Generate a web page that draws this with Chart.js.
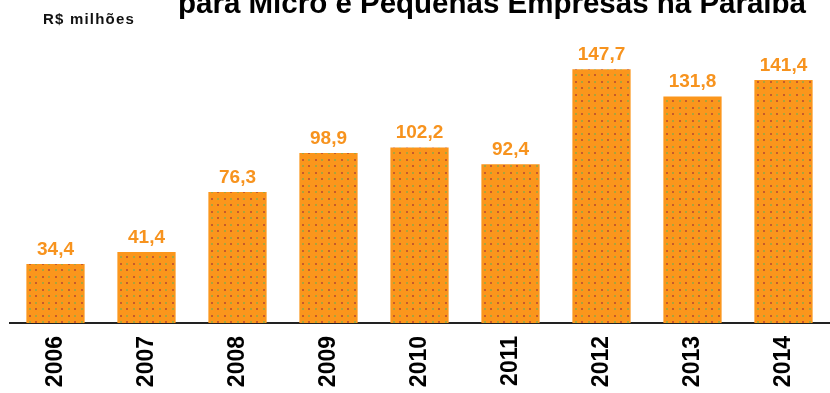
<!DOCTYPE html>
<html>
<head>
<meta charset="utf-8">
<script src="https://cdn.jsdelivr.net/npm/chart.js@4"></script>
<style>
  html, body { margin: 0; padding: 0; background: #fff; }
  #wrap { position: relative; width: 830px; height: 393px; overflow: hidden; }
  #title { position: absolute; left: 178px; top: -14px; font: bold 29.5px "Liberation Sans", Arial, sans-serif; line-height: 33px; color: #000; white-space: nowrap; }
  #unit { position: absolute; left: 43px; top: 10px; font: 900 15px "Liberation Sans", Arial, sans-serif; letter-spacing: 1.2px; color: #111; }
  canvas { position: absolute; left: 0; top: 0; }
</style>
</head>
<body>
<div id="wrap">
  <canvas id="chart" width="830" height="393"></canvas>
  <div id="title">para Micro e Pequenas Empresas na Paraíba</div>
  <div id="unit">R$ milhões</div>
</div>
<script>
// dados (R$ milhões)
const years = ['2006', '2007', '2008', '2009', '2010', '2011', '2012', '2013', '2014'];
const values = [34.4, 41.4, 76.3, 98.9, 102.2, 92.4, 147.7, 131.8, 141.4];

// dotted orange fill like the print
function dotPattern() {
  const c = document.createElement('canvas');
  c.width = 13; c.height = 13;
  const g = c.getContext('2d');
  g.fillStyle = '#fb961c';
  g.fillRect(0, 0, 13, 13);
  g.fillStyle = '#c65a2c';
  g.fillRect(3, 3, 2, 2);
  g.fillRect(9, 9, 2, 2);
  g.fillStyle = '#a9a53c';
  g.fillRect(9, 3, 2, 2);
  g.fillRect(3, 9, 2, 2);
  return g.createPattern(c, 'repeat');
}

const valueLabels = {
  id: 'valueLabels',
  afterDatasetsDraw(chart) {
    const ctx = chart.ctx;
    const meta = chart.getDatasetMeta(0);
    ctx.save();
    ctx.font = 'bold 19px "Liberation Sans", Arial, sans-serif';
    ctx.fillStyle = '#f7931e';
    ctx.textAlign = 'center';
    ctx.textBaseline = 'bottom';
    meta.data.forEach((bar, i) => {
      ctx.fillText(values[i].toFixed(1).replace('.', ','), bar.x, bar.y - 5);
    });
    ctx.restore();
  }
};

const ctx = document.getElementById('chart').getContext('2d');
new Chart(ctx, {
  type: 'bar',
  data: {
    labels: years,
    datasets: [{
      data: values,
      backgroundColor: dotPattern(),
      borderWidth: 0,
      barPercentage: 0.64,
      categoryPercentage: 1
    }]
  },
  options: {
    responsive: false,
    animation: false,
    layout: { padding: { top: 31, left: 10, right: 1, bottom: 0 } },
    plugins: { legend: { display: false }, tooltip: { enabled: false } },
    scales: {
      x: {
        afterFit: (scale) => { scale.height = 70; },
        grid: { display: false, drawTicks: false },
        border: { display: true, color: '#222', width: 2 },
        ticks: {
          color: '#000',
          minRotation: 90,
          maxRotation: 90,
          padding: 13,
          font: { family: '"Liberation Sans", Arial, sans-serif', size: 23, weight: 'bold' }
        }
      },
      y: {
        display: false,
        min: 0,
        max: 170
      }
    }
  },
  plugins: [valueLabels]
});
</script>
</body>
</html>
